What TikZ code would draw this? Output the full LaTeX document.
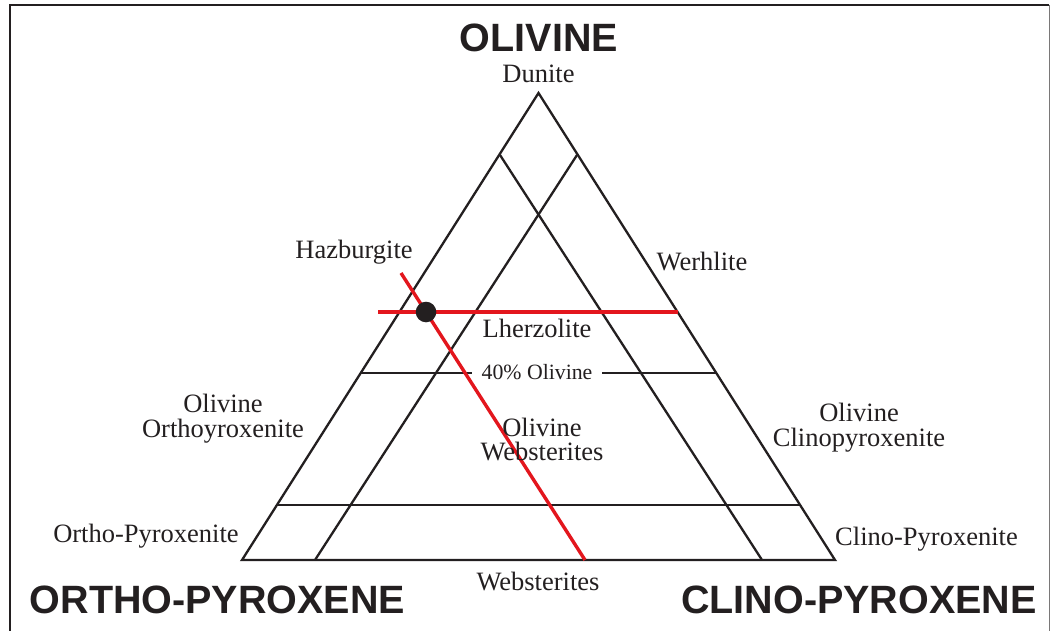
\documentclass[tikz,border=0pt]{standalone}
\usepackage{fontspec}
\setmainfont{Liberation Serif}
\newfontfamily\headfont{Liberation Sans}
\usetikzlibrary{positioning}
\definecolor{inkdark}{HTML}{231F20}
\definecolor{cutred}{HTML}{E3161D}
\definecolor{framegray}{HTML}{7A7878}

\begin{document}
\begin{tikzpicture}[x=1pt,y=-1pt,
  edge/.style={draw=inkdark, line width=2.3pt, line join=miter},
  cut/.style={draw=cutred, line width=3.4pt},
  lbl/.style={text=inkdark, inner sep=0pt, anchor=base, align=center, font=\fontsize{26.5}{24.5}\selectfont},
  head/.style={text=inkdark, inner sep=0pt, anchor=base, font=\headfont\bfseries\fontsize{39.5}{40}\selectfont}]
\useasboundingbox (0,0) rectangle (1051,631);
\fill[white] (0,0) rectangle (1051,631);
% frame
\draw[inkdark, line width=2.6pt] (10,640) -- (10,5) -- (1049,5);
\draw[framegray, line width=1pt] (1049,5) -- (1049,640);
% corners of the triangle
\coordinate (ol) at (538.5,93);
\coordinate (opx) at (242,560);
\coordinate (cpx) at (835,560);
\coordinate (ola) at (500,155);
\coordinate (olb) at (577,155);
\coordinate (basea) at (762,560);
\coordinate (baseb) at (315,560);
\draw[edge] (ol) -- (opx) -- (cpx) -- cycle;
\draw[edge] (ola) -- (basea);
\draw[edge] (olb) -- (baseb);
\draw[edge] (276.9,505) -- (800.1,505);
\draw[edge] (360.7,373) -- (716.3,373);
\node[lbl, fill=white, inner xsep=10pt, inner ysep=3pt, font=\fontsize{21.8}{22}\selectfont] (forty) at (537,379) {40\% Olivine};
% red cuts and sample
\draw[cut] (378,312) -- (677.5,312);
\draw[cut] (401,273) -- (585,560);
\fill[inkdark] (426,312) circle (10.3);
% labels
\node[head] (olivine) at (539,52) {OLIVINE};
\node[head] (orthopx) at (217.5,613) {ORTHO-PYROXENE};
\node[head] (clinopx) at (859,613) {CLINO-PYROXENE};
\node[lbl] (dunite) at (538.5,82.5) {Dunite};
\node[lbl] (hazburgite) at (354,258) {Hazburgite};
\node[lbl] (werhlite) at (702,270.5) {Werhlite};
\node[lbl] (lherzolite) at (537,337) {Lherzolite};
\node[lbl] (olopx) at (223,437) {Olivine\\Orthoyroxenite};
\node[lbl] (olcpx) at (859,446) {Olivine\\Clinopyroxenite};
\node[lbl] (olweb) at (542,460.5) {Olivine\\Websterites};
\node[lbl] (opxite) at (146,542) {Ortho-Pyroxenite};
\node[lbl] (cpxite) at (926.5,545) {Clino-Pyroxenite};
\node[lbl] (webst) at (538,590) {Websterites};
\end{tikzpicture}
\end{document}
